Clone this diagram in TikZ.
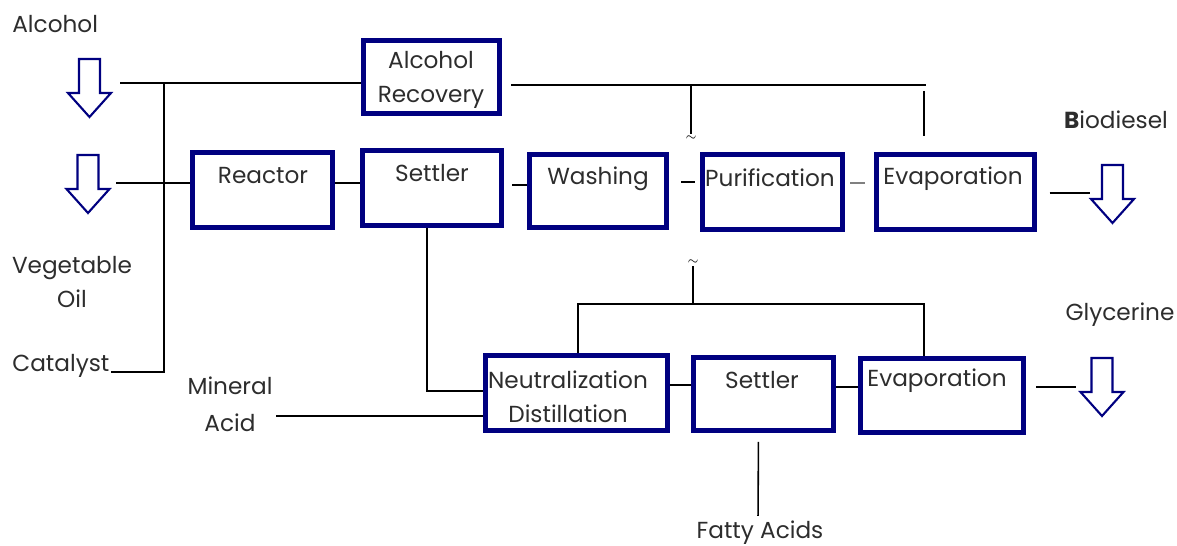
\documentclass[tikz,border=0pt]{standalone}
\usepackage{fontspec}
\setmainfont{Poppins}
\usepackage{xcolor}
\definecolor{boxblue}{RGB}{0,0,128}
\definecolor{inkgrey}{RGB}{45,45,45}
\tikzset{
  unit/.style 2 args={draw=boxblue, line width=0.1cm, minimum width=#1*0.02cm-0.1cm, minimum height=#2*0.02cm-0.1cm, inner sep=0pt},
  txt/.style={text=inkgrey, font=\fontsize{13.2}{19.5}\selectfont, inner sep=0pt, align=center},
  flow/.style={line width=0.9pt, black},
  tilde/.style={font=\scriptsize, inner sep=1pt},
  hollow/.pic={\draw[boxblue, line width=1.2pt, line join=miter] (-10.5,0) -- (10.5,0) -- (10.5,34) -- (21.5,34) -- (0,58) -- (-21.5,34) -- (-10.5,34) -- cycle;}
}
\begin{document}
\begin{tikzpicture}[x=0.02cm, y=-0.02cm]
\useasboundingbox (0,0) rectangle (1177,546);
\node (recovery) at (431.5,77) [unit={141}{78}] {};
\node (reactor) at (262.5,190) [unit={145}{80}] {};
\node (settlerA) at (432,188) [unit={144}{80}] {};
\node (washing) at (598,191) [unit={142}{78}] {};
\node (purif) at (772.5,192) [unit={145}{80}] {};
\node (evapA) at (955.5,192) [unit={163}{80}] {};
\node (neutral) at (576.5,393) [unit={187}{80}] {};
\node (settlerB) at (763.5,394) [unit={145}{78}] {};
\node (evapB) at (942,395.5) [unit={168}{79}] {};
\node (recoverytxt) at (431,80) [txt] {Alcohol\\Recovery};
\node (reactortxt) at (263,176) [txt] {Reactor};
\node (settlerAtxt) at (432,173) [txt] {Settler};
\node (washingtxt) at (598,179) [txt] {Washing};
\node (puriftxt) at (770,178) [txt] {Purification};
\node (evapAtxt) at (953,179) [txt] {Evaporation};
\node (neutraltxt) at (568,397) [txt] {Neutralization\\Distillation};
\node (settlerBtxt) at (762,380) [txt] {Settler};
\node (evapBtxt) at (937,381) [txt] {Evaporation};
\node (alcohol) at (12,24) [txt, anchor=west] {Alcohol};
\node (oil) at (72,282) [txt] {Vegetable\\Oil};
\node (catalyst) at (12,366) [txt, anchor=west] {Catalyst};
\node (acid) at (230,404) [txt, font=\fontsize{13.2}{21}\selectfont] {Mineral\\Acid};
\node (biodiesel) at (1116,120) [txt] {{\bfseries B}iodiesel};
\node (glycerine) at (1120,315) [txt] {Glycerine};
\node (fatty) at (760,533) [txt] {Fatty Acids};
\node (tildeA) at (691,138) [tilde] {$\sim$};
\node (tildeB) at (693,262) [tilde] {$\sim$};
\pic at (89.5,59) {hollow};
\pic at (88,155) {hollow};
\pic at (1112.5,165) {hollow};
\pic at (1102,358) {hollow};
\coordinate (alcin) at (120,83);
\coordinate (alcjoin) at (164,83);
\coordinate (oilin) at (116,183);
\coordinate (catin) at (111,372);
\coordinate (recout) at (511,85);
\coordinate (recend) at (926,85);
\coordinate (bioin) at (1090,193);
\coordinate (acidin) at (276,416);
\coordinate (glyin) at (1076,387);
\coordinate (brL) at (578,304);
\coordinate (brR) at (924,304);
\draw[flow] (alcin) -- (recovery.west |- alcin);
\draw[flow] (catin) -| (alcjoin);
\draw[flow] (oilin) -- (reactor.west |- oilin);
\draw[flow] (reactor.east |- 0,183) -- (settlerA.west |- 0,183);
\draw[flow, shorten <=0.16cm] (settlerA.east |- 0,185) -- (washing.west |- 0,185);
\draw[flow, shorten <=0.24cm, shorten >=0.1cm] (washing.east |- 0,182) -- (purif.west |- 0,182);
\draw[flow, line width=1.4pt, gray, shorten <=0.1cm, shorten >=0.18cm] (purif.east |- 0,183) -- (evapA.west |- 0,183);
\draw[flow, shorten <=0.25cm] (evapA.east |- bioin) -- (bioin);
\draw[flow] (recout) -- (recend);
\draw[flow] (tildeA.north |- recend) -- (tildeA.north);
\draw[flow] (924,91) -- (924,136);
\draw[flow] ([xshift=-0.1cm]settlerA.south) |- (neutral.west |- 0,391);
\draw[flow] (acidin) -- (neutral.west |- acidin);
\draw[flow] (neutral.east |- 0,385) -- (settlerB.west |- 0,385);
\draw[flow] (settlerB.east |- 0,387) -- (evapB.west |- 0,387);
\draw[flow, shorten <=0.2cm] (evapB.east |- glyin) -- (glyin);
\draw[flow, shorten <=0.18cm, shorten >=0.1cm] ([xshift=-0.1cm]settlerB.south) -- (fatty.north -| 758,0);
\draw[flow] (neutral.north -| brL) |- (brR) -- (evapB.north -| brR);
\draw[flow] (tildeB.south |- brR) -- (tildeB.south);
\end{tikzpicture}
\end{document}
